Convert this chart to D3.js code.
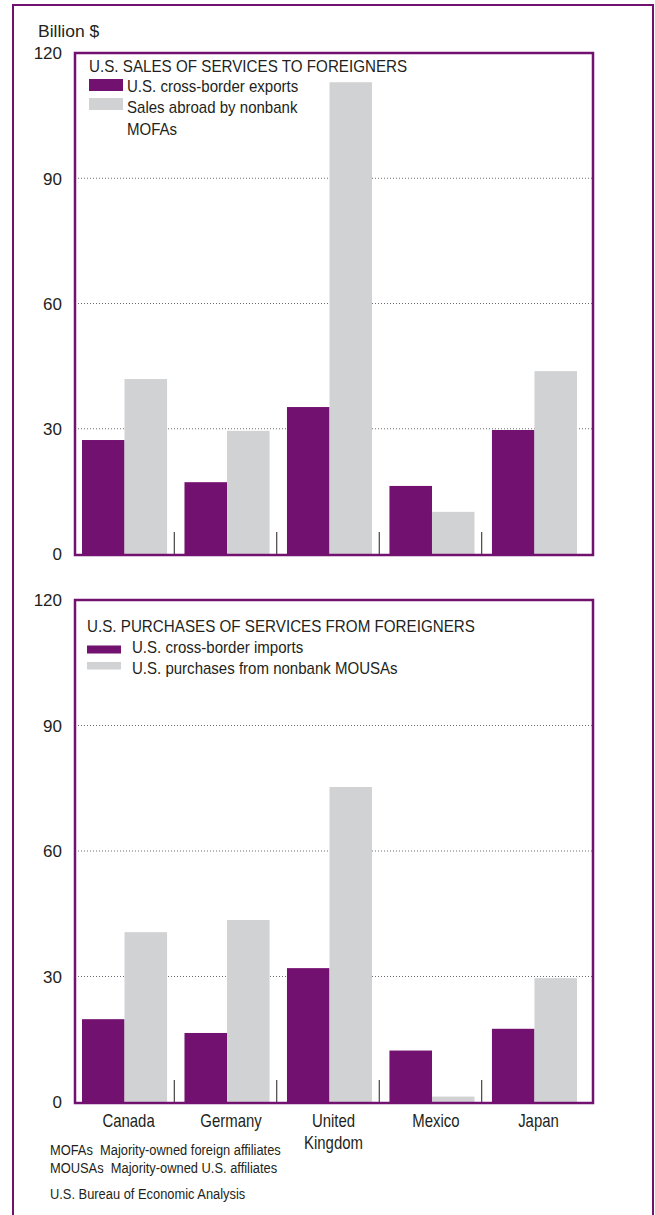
<!DOCTYPE html>
<html>
<head>
<meta charset="utf-8">
<script src="https://cdn.jsdelivr.net/npm/d3@7"></script>
<style>
  html, body { margin: 0; padding: 0; background: #fff; }
  svg text { font-family: "Liberation Sans", Arial, Helvetica, sans-serif; fill: #231f20; white-space: pre; }
</style>
</head>
<body>
<svg id="chart" width="655" height="1215"></svg>
<script>
// ---- data ----
const categories = ["Canada", "Germany", "United Kingdom", "Mexico", "Japan"];
const categoryLabels = [["Canada"], ["Germany"], ["United", "Kingdom"], ["Mexico"], ["Japan"]];
const salesExports = [27.3, 17.2, 35.2, 16.3, 29.7];
const salesMOFAs = [41.9, 29.5, 113.0, 10.1, 43.8];
const purchImports = [19.8, 16.5, 32.0, 12.3, 17.5];
const purchMOUSAs = [40.6, 43.5, 75.3, 1.3, 29.6];
const yTicks = [0, 30, 60, 90, 120];
const topTitle = "U.S. SALES OF SERVICES TO FOREIGNERS";
const topLegend = ["U.S. cross-border exports", "Sales abroad by nonbank", "MOFAs"];
const bottomTitle = "U.S. PURCHASES OF SERVICES FROM FOREIGNERS";
const bottomLegend = ["U.S. cross-border imports", "U.S. purchases from nonbank MOUSAs"];
const notes = ["MOFAs  Majority-owned foreign affiliates", "MOUSAs  Majority-owned U.S. affiliates"];
const source = "U.S. Bureau of Economic Analysis";

const PURPLE = "#72116f";
const GRAY = "#d1d2d4";

const svg = d3.select("#chart");

function txt(g, x, y, s, size, sx, anchor) {
  return g.append("text")
    .attr("transform", `translate(${x},${y}) scale(${sx},1)`)
    .attr("text-anchor", anchor || "start")
    .attr("xml:space", "preserve")
    .style("font-size", size + "px")
    .text(s);
}

// outer frame
svg.append("rect").attr("x", 13).attr("y", 5).attr("width", 640).attr("height", 1230)
  .attr("fill", "none").attr("stroke", PURPLE).attr("stroke-width", 2);

txt(svg, 38, 37, "Billion $", 17, 1.03, "start");

const x = d3.scaleBand().domain(categories).range([82, 577]).paddingInner(0.17).paddingOuter(0);
const xs = d3.scaleBand().domain([0, 1]).range([0, x.bandwidth()]);

function panel(top, bottom, a, b) {
  const y = d3.scaleLinear().domain([0, 120]).range([bottom, top]);
  const g = svg.append("g");
  // gridlines
  g.selectAll("line.grid").data(yTicks.filter(t => t > 0 && t < 120)).enter().append("line")
    .attr("x1", 75).attr("x2", 593)
    .attr("y1", d => y(d)).attr("y2", d => y(d))
    .attr("stroke", "#6d6e71").attr("stroke-width", 1).attr("stroke-dasharray", "1,2");
  // axis labels
  const ax = d3.axisLeft(y).tickValues(yTicks).tickSize(0).tickPadding(0).tickFormat(d3.format("d"));
  const axg = g.append("g").attr("transform", "translate(62,0)").call(ax);
  axg.select(".domain").remove();
  axg.selectAll("text").style("font-size", "17px").attr("fill", "#231f20")
    .attr("font-family", "Liberation Sans, Arial, sans-serif").attr("dy", "0.35em");
  // bars
  categories.forEach((c, i) => {
    [a[i], b[i]].forEach((v, j) => {
      g.append("rect")
        .attr("x", x(c) + xs(j)).attr("width", xs.bandwidth())
        .attr("y", y(v)).attr("height", y(0) - y(v))
        .attr("fill", j === 0 ? PURPLE : GRAY);
    });
  });
  // separator ticks
  for (let i = 0; i < categories.length - 1; i++) {
    const xm = (x(categories[i]) + x.bandwidth() + x(categories[i + 1])) / 2 - 1.5;
    g.append("line").attr("x1", xm).attr("x2", xm).attr("y1", y(0) - 22).attr("y2", y(0))
      .attr("stroke", "#231f20").attr("stroke-width", 1);
  }
  // frame
  g.append("rect").attr("x", 75).attr("y", top).attr("width", 593 - 75).attr("height", bottom - top + 1)
    .attr("fill", "none").attr("stroke", PURPLE).attr("stroke-width", 2.5);
  return { g, y };
}

const p1 = panel(53, 554, salesExports, salesMOFAs);
txt(svg, 89, 72, topTitle, 16, 0.95);
svg.append("rect").attr("x", 89).attr("y", 79).attr("width", 34).attr("height", 12).attr("fill", PURPLE);
svg.append("rect").attr("x", 89).attr("y", 98).attr("width", 34).attr("height", 12).attr("fill", GRAY);
txt(svg, 127, 91.5, topLegend[0], 16, 0.94);
txt(svg, 127, 112.5, topLegend[1], 16, 0.94);
txt(svg, 127, 135, topLegend[2], 16, 0.94);

const p2 = panel(600, 1102, purchImports, purchMOUSAs);
txt(svg, 87, 632, bottomTitle, 16, 0.95);
svg.append("rect").attr("x", 87).attr("y", 645.5).attr("width", 34).attr("height", 8).attr("fill", PURPLE);
svg.append("rect").attr("x", 87).attr("y", 662).attr("width", 34).attr("height", 7.5).attr("fill", GRAY);
txt(svg, 132, 653, bottomLegend[0], 16, 0.94);
txt(svg, 132, 674, bottomLegend[1], 16, 0.94);

// category labels
categories.forEach((c, i) => {
  categoryLabels[i].forEach((line, k) => {
    txt(svg, x(c) + x.bandwidth() / 2 + 4, 1127 + k * 22, line, 18, 0.83, "middle");
  });
});

txt(svg, 50, 1155, notes[0], 14, 0.92);
txt(svg, 50, 1173, notes[1], 14, 0.92);
txt(svg, 50, 1199, source, 14, 0.92);
</script>
</body>
</html>
